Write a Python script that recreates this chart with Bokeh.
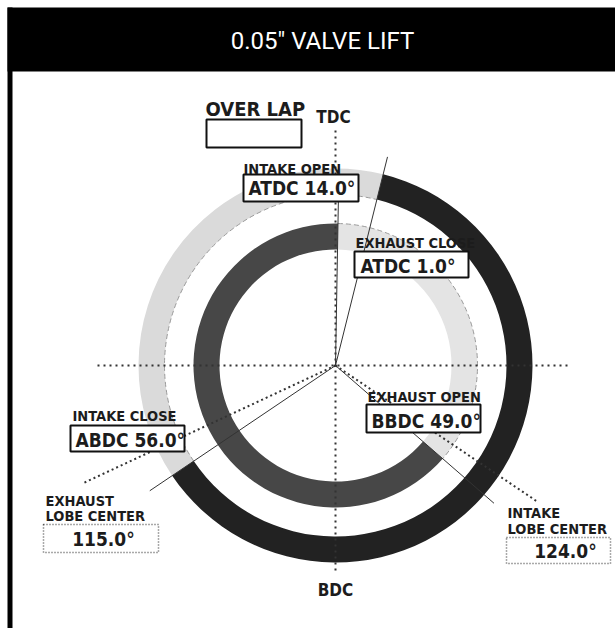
import numpy as np
from bokeh.plotting import figure
from bokeh.models import Range1d
from bokeh.core.properties import value
from bokeh.embed import file_html
from bokeh.resources import INLINE

# ---------------- data ----------------
title_text = "0.05\u2033 VALVE LIFT"
event_names = ["INTAKE OPEN", "INTAKE CLOSE", "EXHAUST OPEN", "EXHAUST CLOSE"]
event_refs = ["ATDC", "ABDC", "BBDC", "ATDC"]
event_values = [14.0, 56.0, 49.0, 1.0]
lobe_titles = [["INTAKE", "LOBE CENTER"], ["EXHAUST", "LOBE CENTER"]]
lobe_refs = ["ATDC", "BTDC"]
lobe_values = [124.0, 115.0]
overlap_title = "OVER LAP"
dead_centers = ["TDC", "BDC"]

# ---------------- helpers ----------------
def crank(ref, v):
    return {"ATDC": v, "BTDC": 360 - v, "ABDC": 180 + v, "BBDC": 180 - v}[ref]

def ang(theta):
    # crank angle clockwise from TDC -> math angle (rad)
    return np.radians(90.0 - theta)

CX, CY = 335, 365
def px(x):
    return x - CX
def py(y):
    return CY - y
def bl(y, size):
    # baseline correction for svg text placement
    return py(y - 0.32 * size)

io, ic, eo, ec = [crank(r, v) for r, v in zip(event_refs, event_values)]
if ec < eo:
    ec += 360
il, el = [crank(r, v) for r, v in zip(lobe_refs, lobe_values)]

W, H = 615, 628
p = figure(width=W, height=H, output_backend="svg", toolbar_location=None,
           x_range=Range1d(-CX, W - CX), y_range=Range1d(CY - H, CY),
           min_border=0, outline_line_color=None, background_fill_color="white",
           border_fill_color="white")
p.xaxis.visible = False
p.yaxis.visible = False
p.grid.visible = False

LF = value("DejaVu Sans Condensed")
TXT = "#1c1c1c"

# ---------------- rings ----------------
RO = (171, 197)
RI = (116, 142)
# intake (outer)
p.annular_wedge(x=0, y=0, inner_radius=RO[0], outer_radius=RO[1],
                start_angle=ang(ic), end_angle=ang(io), direction="clock",
                fill_color="#dadada", line_color=None)
p.arc(x=0, y=0, radius=RO[0], start_angle=ang(ic), end_angle=ang(io), direction="clock",
      line_color="#9a9a9a", line_dash="5 3", line_width=1)
p.annular_wedge(x=0, y=0, inner_radius=RO[0], outer_radius=RO[1],
                start_angle=ang(io), end_angle=ang(ic), direction="clock",
                fill_color="#222222", line_color=None)
# exhaust (inner)
p.annular_wedge(x=0, y=0, inner_radius=RI[0], outer_radius=RI[1],
                start_angle=ang(ec), end_angle=ang(eo), direction="clock",
                fill_color="#e4e4e4", line_color=None)
p.arc(x=0, y=0, radius=RI[1], start_angle=ang(ec), end_angle=ang(eo), direction="clock",
      line_color="#9a9a9a", line_dash="5 3", line_width=1)
p.annular_wedge(x=0, y=0, inner_radius=RI[0], outer_radius=RI[1],
                start_angle=ang(eo), end_angle=ang(ec), direction="clock",
                fill_color="#474747", line_color=None)

# ---------------- axis lines ----------------
p.segment(x0=[px(97), 0], y0=[0, py(130)], x1=[px(570), 0], y1=[0, py(572)],
          line_color="#333333", line_width=2, line_dash="2 4")

# ---------------- event lines ----------------
ev_thetas = [io, ic, eo, ec]
ev_len = [215, 224, 210, 165]
p.segment(x0=0, y0=0,
          x1=[L * np.cos(ang(t)) for t, L in zip(ev_thetas, ev_len)],
          y1=[L * np.sin(ang(t)) for t, L in zip(ev_thetas, ev_len)],
          line_color="#333333", line_width=1)
lb_thetas = [il, el]
lb_len = [243, 280]
p.segment(x0=0, y0=0,
          x1=[L * np.cos(ang(t)) for t, L in zip(lb_thetas, lb_len)],
          y1=[L * np.sin(ang(t)) for t, L in zip(lb_thetas, lb_len)],
          line_color="#333333", line_width=2, line_dash="2 3")

# ---------------- frame / header ----------------
p.quad(left=px(7), right=px(W), top=py(7), bottom=py(71), fill_color="black", line_color=None)
p.quad(left=px(7), right=px(12), top=py(7), bottom=py(H), fill_color="black", line_color=None)
p.text(x=[px(322)], y=[bl(48, 24)], text=[title_text], text_color="white",
       text_font=value("Roboto"), text_font_size="24px", text_align="center",
       text_baseline="alphabetic")

# ---------------- boxes ----------------
# (title_left, title_base, box_l, box_t, box_r, box_b, text_left, text_base)
ev_pos = [
    (243, 173, 243, 174, 358, 201, 248, 194),   # intake open
    (72, 420, 70, 425, 184, 451, 75, 446),      # intake close
    (367, 401, 366, 404, 480, 432, 371, 427),   # exhaust open
    (355, 247, 354, 251, 468, 277, 360, 272),   # exhaust close
]
p.quad(left=[px(e[2]) for e in ev_pos], right=[px(e[4]) for e in ev_pos],
       top=[py(e[3]) for e in ev_pos], bottom=[py(e[5]) for e in ev_pos],
       fill_color="white", line_color="#111111", line_width=2)
# (title_left, base1, base2, box_l, box_t, box_r, box_b, text_cx, text_base)
lb_pos = [
    (507, 517, 533, 506, 537, 610, 563, 565, 557),
    (45, 505, 520, 43, 524, 158, 552, 103, 545),
]
p.quad(left=[px(e[3]) for e in lb_pos], right=[px(e[5]) for e in lb_pos],
       top=[py(e[4]) for e in lb_pos], bottom=[py(e[6]) for e in lb_pos],
       fill_color="white", line_color="#555555", line_width=1.5, line_dash="1 2")
p.quad(left=[px(206)], right=[px(301)], top=[py(119)], bottom=[py(147)],
       fill_color="white", line_color="#111111", line_width=2)

# ---------------- texts ----------------
S_T, S_V = 14.5, 19
p.text(x=[px(e[0]) for e in ev_pos], y=[bl(e[1], S_T) for e in ev_pos], text=event_names,
       text_font=LF, text_font_style="bold", text_font_size=f"{S_T}px", text_color=TXT,
       text_align="left", text_baseline="alphabetic")
p.text(x=[px(e[6]) for e in ev_pos], y=[bl(e[7], S_V) for e in ev_pos],
       text=[f"{r} {v:.1f}\u00b0" for r, v in zip(event_refs, event_values)],
       text_font=LF, text_font_style="bold", text_font_size=f"{S_V}px", text_color=TXT,
       text_align="left", text_baseline="alphabetic")
p.text(x=[px(e[0]) for e in lb_pos] * 2,
       y=[bl(e[1], S_T) for e in lb_pos] + [bl(e[2], S_T) for e in lb_pos],
       text=[t[0] for t in lobe_titles] + [t[1] for t in lobe_titles],
       text_font=LF, text_font_style="bold", text_font_size=f"{S_T}px", text_color=TXT,
       text_align="left", text_baseline="alphabetic")
p.text(x=[px(e[7]) for e in lb_pos], y=[bl(e[8], S_V) for e in lb_pos],
       text=[f"{v:.1f}\u00b0" for v in lobe_values],
       text_font=LF, text_font_style="bold", text_font_size=f"{S_V}px", text_color=TXT,
       text_align="center", text_baseline="alphabetic")
p.text(x=[px(205)], y=[bl(115, 20)], text=[overlap_title], text_font=LF, text_font_style="bold",
       text_font_size="20px", text_color=TXT, text_align="left", text_baseline="alphabetic")
p.text(x=[px(333), px(335)], y=[bl(122, 17), bl(595, 17)], text=dead_centers, text_font=LF,
       text_font_style="bold", text_font_size="17px", text_color=TXT,
       text_align="center", text_baseline="alphabetic")

open("out.html", "w").write(file_html(p, INLINE))
